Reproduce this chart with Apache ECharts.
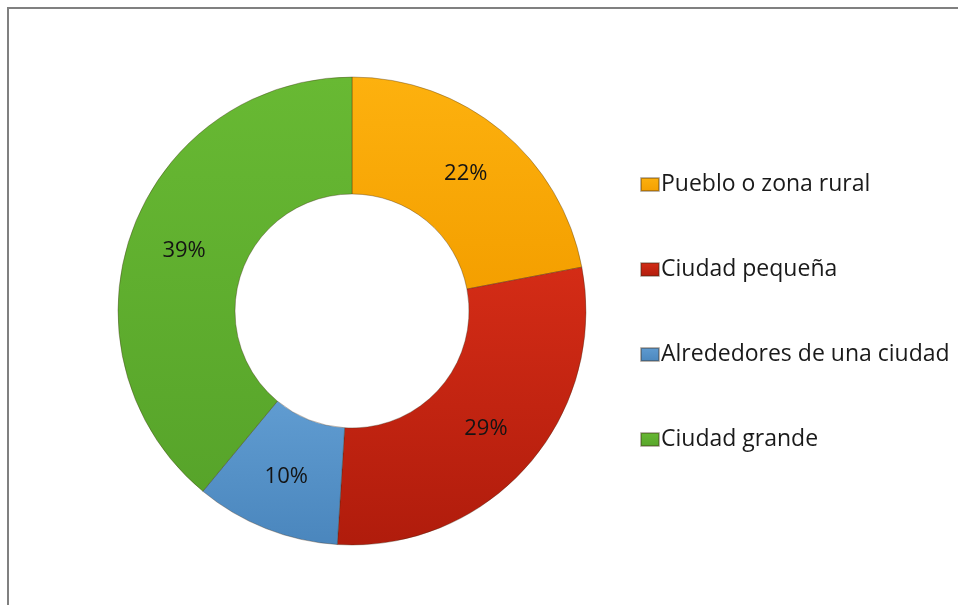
<!DOCTYPE html>
<html>
<head>
<meta charset="utf-8">
<script src="https://cdn.jsdelivr.net/npm/echarts@6/dist/echarts.min.js"></script>
<style>
  html, body { margin: 0; padding: 0; background: #ffffff; }
  #frame {
    position: absolute; left: 7px; top: 7px; width: 951px; height: 598px;
    border-top: 2px solid #808080; border-left: 2px solid #808080;
    box-sizing: border-box;
  }
  #chart { position: absolute; left: 0; top: 0; width: 958px; height: 605px; }
</style>
</head>
<body>
<div id="frame"></div>
<div id="chart"></div>
<script>
// Lugar de residencia (porcentaje)
const categories = ['Pueblo o zona rural', 'Ciudad pequeña', 'Alrededores de una ciudad', 'Ciudad grande'];
const values = [22, 29, 10, 39];

// light -> dark pairs for each slice's shading
const palette = [
  ['#FDB10E', '#F49F00'],
  ['#D42C16', '#B01C0C'],
  ['#609CD1', '#4A86BD'],
  ['#68B933', '#57A42A']
];

function shade(pair) {
  return new echarts.graphic.LinearGradient(0, 0, 0, 1, [
    { offset: 0, color: pair[0] },
    { offset: 1, color: pair[1] }
  ]);
}

const chart = echarts.init(document.getElementById('chart'), null, { renderer: 'canvas' });

chart.setOption({
  animation: false,
  backgroundColor: 'transparent',
  legend: {
    orient: 'vertical',
    left: 640,
    top: 172,
    padding: 0,
    icon: 'rect',
    itemWidth: 18,
    itemHeight: 13,
    itemGap: 60,
    textStyle: {
      fontFamily: 'Open Sans',
      fontSize: 23,
      lineHeight: 25,
      color: '#1a1a1a',
      padding: [0, 0, 0, -3]
    },
    data: categories
  },
  series: [{
    type: 'pie',
    center: [352, 311],
    radius: [117, 234],
    startAngle: 90,
    clockwise: true,
    avoidLabelOverlap: false,
    itemStyle: {
      borderColor: 'rgba(60,40,20,0.35)',
      borderWidth: 1
    },
    label: {
      show: true,
      position: 'inside',
      formatter: '{c}%',
      fontFamily: 'Open Sans',
      fontSize: 22,
      color: '#141414'
    },
    labelLine: { show: false },
    emphasis: { disabled: true },
    data: categories.map((name, i) => ({
      name: name,
      value: values[i],
      itemStyle: { color: shade(palette[i]) }
    }))
  }]
});
</script>
</body>
</html>
